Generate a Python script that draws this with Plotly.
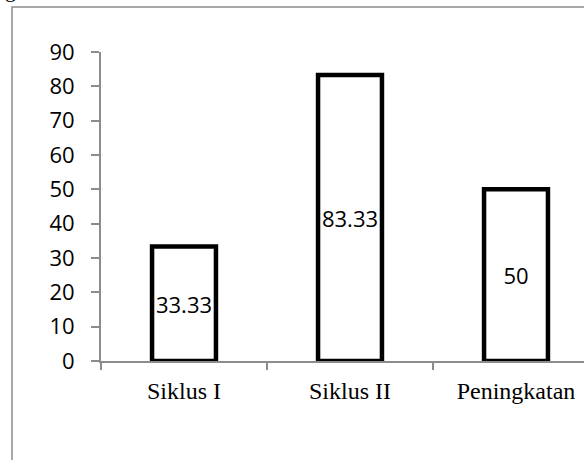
import plotly.graph_objects as go

# Data
categories = ["Siklus I", "Siklus II", "Peningkatan"]
values = [33.33, 83.33, 50]
value_labels = ["33.33", "83.33", "50"]
y_ticks = [0, 10, 20, 30, 40, 50, 60, 70, 80, 90]

W, H = 584, 460
L, T, B = 101, 52, 99
plot_w = W - L
plot_h = H - T - B

def px_x(px):
    return (px - L) / plot_w

def px_y(py):
    return (H - B - py) / plot_h

fig = go.Figure()
fig.add_trace(go.Bar(
    x=categories,
    y=values,
    width=0.385,
    marker=dict(color="white", line=dict(color="black", width=4.5)),
    text=value_labels,
    textposition="inside",
    insidetextanchor="middle",
    textangle=0,
    textfont=dict(family="Open Sans", size=22, color="black"),
    hoverinfo="skip",
))

axis_gray = "#8c8c8c"
fig.update_layout(
    width=W, height=H,
    margin=dict(l=L, r=0, t=T, b=B, pad=0),
    paper_bgcolor="white",
    plot_bgcolor="white",
    showlegend=False,
    bargap=0.6,
    xaxis=dict(
        type="category",
        range=[-0.5, -0.5 + plot_w / 166.0],
        showline=True, linecolor=axis_gray, linewidth=2,
        ticks="outside", tickson="boundaries", ticklen=7,
        tickcolor=axis_gray, tickwidth=2,
        showgrid=False, zeroline=False,
        tickfont=dict(family="Liberation Serif", size=24, color="black"),
        ticklabelstandoff=7,
    ),
    yaxis=dict(
        range=[0, 90],
        tickvals=y_ticks,
        showline=True, linecolor=axis_gray, linewidth=2,
        ticks="outside", ticklen=8, tickcolor=axis_gray, tickwidth=2,
        showgrid=False, zeroline=False,
        tickfont=dict(family="Open Sans", size=22, color="black"),
        ticklabelstandoff=12,
    ),
    shapes=[
        dict(type="rect", xref="paper", yref="paper",
             x0=px_x(12), x1=px_x(W + 40), y0=px_y(H + 40), y1=px_y(7),
             line=dict(color=axis_gray, width=1.5), fillcolor="rgba(0,0,0,0)",
             layer="below"),
    ],
    annotations=[
        dict(text="sebagai berikut.", xref="paper", yref="paper",
             x=px_x(107), y=px_y(4), xanchor="right", yanchor="bottom",
             showarrow=False,
             font=dict(family="Liberation Serif", size=22, color="black")),
    ],
)

fig.write_html("out.html")
